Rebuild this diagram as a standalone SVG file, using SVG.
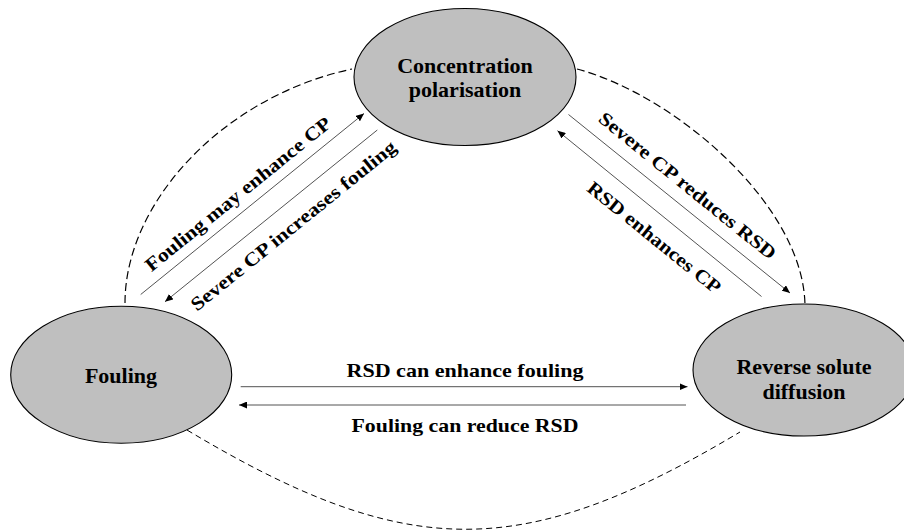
<svg xmlns="http://www.w3.org/2000/svg" width="904" height="531" viewBox="0 0 904 531">
<style>
.node{fill:#bfbfbf;stroke:#000;stroke-width:1.1}
.nl{font-family:"Liberation Serif","Times New Roman",serif;font-weight:bold;font-size:22px;fill:#000;text-anchor:middle}
.el{font-family:"Liberation Serif","Times New Roman",serif;font-weight:bold;font-size:19px;fill:#000;text-anchor:middle}
.arc{fill:none;stroke:#000;stroke-width:1.2;stroke-dasharray:8 4}
.arc2{fill:none;stroke:#000;stroke-width:1;stroke-dasharray:6 4}
.ar{fill:none;stroke:#404040;stroke-width:0.9;marker-end:url(#ah)}
</style>
<defs>
<marker id="ah" markerUnits="userSpaceOnUse" markerWidth="9" markerHeight="7" refX="8" refY="3.5" orient="auto">
<path d="M0,0 L8,3.5 L0,7 Z" fill="#000"/>
</marker>
</defs>
<rect width="904" height="531" fill="#fff"/>
<g id="cycle">
<path class="arc" d="M125,303 C125,203 222,97 352,69"/>
<path class="arc" d="M577,69 C677,96 805,207 805,307"/>
<path class="arc2" d="M187,430 C406,561 521,563 740,432"/>
</g>
<g id="node-cp">
<ellipse class="node" cx="465" cy="77" rx="111" ry="68.5"/>
<text class="nl" x="465" y="72.5">Concentration</text>
<text class="nl" x="465" y="96.5">polarisation</text>
</g>
<g id="node-fouling">
<ellipse class="node" cx="121.2" cy="374.7" rx="110.5" ry="68.5"/>
<text class="nl" x="121" y="383.3">Fouling</text>
</g>
<g id="node-rsd">
<ellipse class="node" cx="804" cy="370" rx="111" ry="66"/>
<text class="nl" x="804" y="374.3">Reverse solute</text>
<text class="nl" x="804" y="399">diffusion</text>
</g>
<g id="connectors">
<line class="ar" x1="140.7" y1="294.5" x2="364" y2="113.5"/>
<line class="ar" x1="377.3" y1="130" x2="165" y2="301.7"/>
<line class="ar" x1="568.5" y1="114.5" x2="790" y2="293"/>
<line class="ar" x1="761.5" y1="296.5" x2="557.5" y2="130.7"/>
<line class="ar" x1="240.7" y1="386.7" x2="687.5" y2="386.7"/>
<line class="ar" x1="686" y1="405" x2="239" y2="405"/>
</g>
<g id="labels">
<text class="el" transform="translate(238.3,194.2) rotate(-39)" y="6" textLength="233" lengthAdjust="spacingAndGlyphs">Fouling may enhance CP</text>
<text class="el" transform="translate(294.2,226.7) rotate(-39)" y="5" textLength="258" lengthAdjust="spacingAndGlyphs">Severe CP increases fouling</text>
<text class="el" transform="translate(687.5,185.8) rotate(39)" y="6.3" textLength="222" lengthAdjust="spacingAndGlyphs">Severe CP reduces RSD</text>
<text class="el" transform="translate(654.2,237.5) rotate(39)" y="6.3" textLength="166" lengthAdjust="spacingAndGlyphs">RSD enhances CP</text>
<text class="el" x="465" y="377.3" textLength="237" lengthAdjust="spacingAndGlyphs">RSD can enhance fouling</text>
<text class="el" x="465" y="431.7" textLength="227" lengthAdjust="spacingAndGlyphs">Fouling can reduce RSD</text>
</g>
</svg>
